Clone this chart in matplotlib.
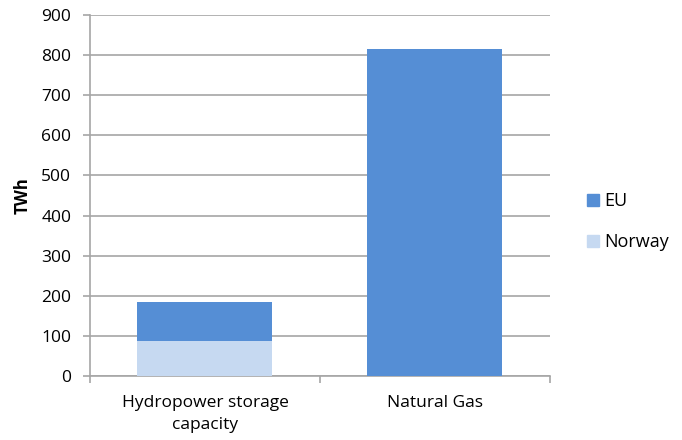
import matplotlib
matplotlib.use("Agg")
import matplotlib.pyplot as plt
from matplotlib.patches import Patch

plt.rcParams['font.family'] = ['Open Sans', 'DejaVu Sans']

categories = ["Hydropower storage\ncapacity", "Natural Gas"]
norway = [86, 0]
eu = [99, 815]
yticks = [0, 100, 200, 300, 400, 500, 600, 700, 800, 900]

c_eu = "#558ED5"
c_no = "#C6D9F1"
gray = "#A6A6A6"

fig = plt.figure(figsize=(6.82, 4.4), dpi=100)
ax = fig.add_axes([0.132, 0.1455, 0.674, 0.8205])

x = [0, 1]
w = 0.587
ax.bar(x, norway, width=w, color=c_no, zorder=3)
ax.bar(x, eu, width=w, bottom=norway, color=c_eu, zorder=3)

ax.set_xlim(-0.5, 1.5)
ax.set_ylim(0, 900)
ax.set_yticks(yticks)
ax.yaxis.grid(True, color=gray, linewidth=1.2, zorder=0)
for s in ["top", "right"]:
    ax.spines[s].set_visible(False)
for s in ["left", "bottom"]:
    ax.spines[s].set_color(gray)
    ax.spines[s].set_linewidth(1.2)
ax.tick_params(axis="y", colors=gray, length=5, width=1.2, labelcolor="black",
               labelsize=12.5, pad=8.5)
ax.set_xticks(x)
ax.set_xticklabels(categories, fontsize=12.5, linespacing=1.45)
ax.tick_params(axis="x", length=0, pad=14)
# category boundary ticks
ax.set_xticks([-0.5, 0.5, 1.5], minor=True)
ax.tick_params(axis="x", which="minor", length=5, width=1.2, color=gray)
ax.set_ylabel("TWh", fontsize=12, fontweight="bold")
ax.yaxis.set_label_coords(-0.126, 0.5)

handles = [Patch(color=c_eu, label="EU"), Patch(color=c_no, label="Norway")]
fig.legend(handles=handles, loc="center left", bbox_to_anchor=(0.837, 0.496),
           frameon=False, fontsize=13, handlelength=0.65, handleheight=0.65,
           handletextpad=0.3, labelspacing=1.3)

fig.savefig("out.png", dpi=100)
